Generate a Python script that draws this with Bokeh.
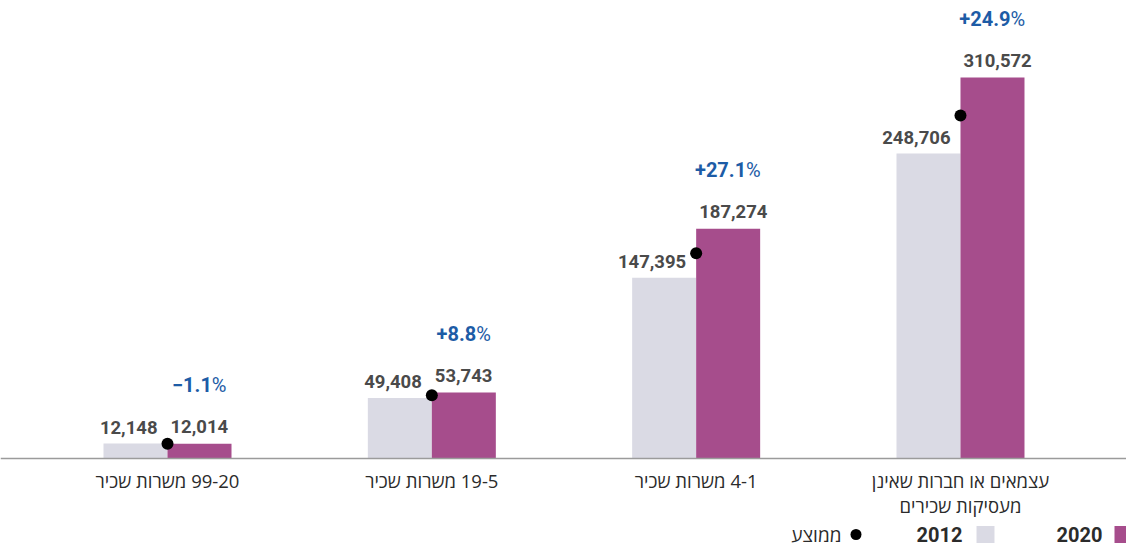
from bokeh.plotting import figure
from bokeh.models import FixedTicker, Range1d
from bokeh.core.properties import value
from bokeh.embed import file_html
from bokeh.resources import INLINE

# ---------------- data ----------------
categories = [
    "\u200F99-20 משרות שכיר",
    "\u200F19-5 משרות שכיר",
    "\u200F4-1 משרות שכיר",
    "עצמאים או חברות שאינן\nמעסיקות שכירים",
]
vals_2012 = [12148, 49408, 147395, 248706]
vals_2020 = [12014, 53743, 187274, 310572]
avg_vals = [12081, 51576, 167335, 279639]
pct_change = ["\u22121.1", "+8.8", "+27.1", "+24.9"]
legend_labels = ["2020", "2012", "ממוצע"]

# ---------------- colours ----------------
C2012 = "#dadae4"
C2020 = "#a64d8c"
CVAL = "#4a4a4a"
CPCT = "#1d5ca6"
CTXT = "#2b2b2b"

# ---------------- geometry ----------------
W, H = 1126, 547
PX = 264.33                      # pixels per category
x_start = -167 / PX
x_end = x_start + W / PX
baseline_px = 458
top_px = 77
ppu = (baseline_px - top_px) / max(vals_2020)
y_end = baseline_px / ppu
y_start = -(H - baseline_px) / ppu
bw = 64 / PX

def dx(px):
    return x_start + px / PX

def dy(py):
    return y_end - py / ppu

p = figure(width=W, height=H, output_backend="svg", toolbar_location=None,
           x_range=Range1d(x_start, x_end), y_range=Range1d(y_start, y_end),
           y_axis_location=None, min_border=0)
p.outline_line_color = None
p.background_fill_color = "white"
p.border_fill_color = "white"
p.xgrid.visible = False
p.ygrid.visible = False

idx = list(range(len(categories)))

p.vbar(x=[i - bw / 2 for i in idx], top=vals_2012, width=bw, bottom=0,
       fill_color=C2012, line_color=None)
p.vbar(x=[i + bw / 2 for i in idx], top=vals_2020, width=bw, bottom=0,
       fill_color=C2020, line_color=None)
p.scatter(x=idx, y=avg_vals, size=12, fill_color="black", line_color=None)

NUMF = value("Roboto")
p.text(x=idx, y=vals_2012, text=[f"{v:,}" for v in vals_2012],
       x_offset=-10, y_offset=-16, text_align="right", text_baseline="alphabetic",
       text_font=NUMF, text_font_style="bold", text_font_size="18.5px",
       text_color=CVAL)
p.text(x=idx, y=vals_2020, text=[f"{v:,}" for v in vals_2020],
       x_offset=3, y_offset=-17, text_align="left", text_baseline="alphabetic",
       text_font=NUMF, text_font_style="bold", text_font_size="18.5px",
       text_color=CVAL)

# percent labels: number (bold) + "%" (regular), centred on the 2020 bar
cw = {"+": 11.6, "\u2212": 11.6, ".": 5.3}
pct_w = 14.6
offs = []
for s in pct_change:
    nw = sum(cw.get(ch, 11.2) for ch in s)
    offs.append((nw + pct_w) / 2 - pct_w)
p.text(x=[i + bw / 2 for i in idx], y=vals_2020, text=pct_change,
       x_offset=offs, y_offset=-59, text_align="right", text_baseline="alphabetic",
       text_font=NUMF, text_font_style="bold", text_font_size="20px",
       text_color=CPCT)
p.text(x=[i + bw / 2 for i in idx], y=vals_2020, text=["%"] * len(idx),
       x_offset=offs, y_offset=-59, text_align="left", text_baseline="alphabetic",
       text_font=NUMF, text_font_style="normal", text_font_size="20px",
       text_color=CPCT)

# axis at zero with category labels
ax = p.xaxis[0]
ax.fixed_location = 0
ax.ticker = FixedTicker(ticks=idx)
ax.major_label_overrides = {i: c for i, c in zip(idx, categories)}
ax.major_tick_line_color = None
ax.minor_tick_line_color = None
ax.axis_line_color = "#9b9b9b"
ax.axis_line_width = 1.5
ax.major_label_text_font = "Open Sans"
ax.major_label_text_font_size = "18.5px"
ax.major_label_text_line_height = 1.0
ax.major_label_text_color = CTXT
ax.major_label_standoff = 3

# legend (right-to-left)
ly = dy(534)
p.rect(x=[dx(1120)], y=[ly], width=12, height=17, width_units="screen",
       height_units="screen", fill_color=C2020, line_color=None)
p.rect(x=[dx(985)], y=[ly], width=18, height=17, width_units="screen",
       height_units="screen", fill_color=C2012, line_color=None)
p.scatter(x=[dx(855.5)], y=[ly], size=11, fill_color="black", line_color=None)
p.text(x=[dx(1102), dx(962)], y=[ly, ly], text=legend_labels[:2],
       text_align="right", text_baseline="middle", text_font=NUMF,
       text_font_style="bold", text_font_size="20px", text_color=CTXT)
p.text(x=[dx(841)], y=[ly], text=[legend_labels[2]],
       text_align="right", text_baseline="middle", text_font=value("Open Sans"),
       text_font_size="19px", text_color=CTXT)

open("out.html", "w").write(file_html(p, INLINE))
